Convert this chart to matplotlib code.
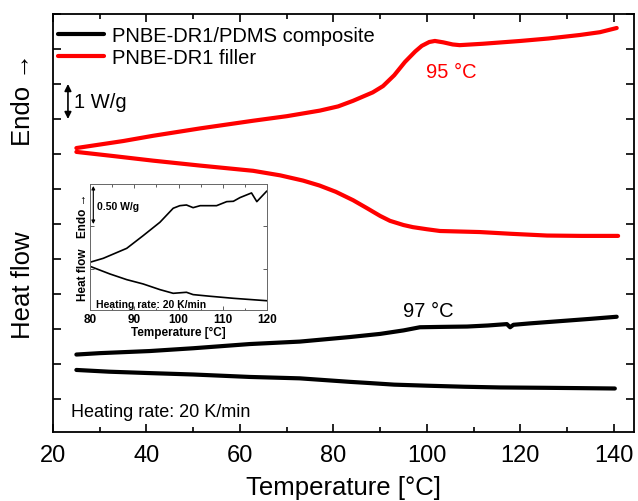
import matplotlib
matplotlib.use("Agg")
import matplotlib.pyplot as plt
from matplotlib.ticker import MultipleLocator

plt.rcParams['font.family'] = ['Liberation Sans', 'DejaVu Sans']

# ---- main data (temperature in °C, heat flow in W/g, offset) ----
red_up_T = [25, 30, 35, 41.4, 51.4, 62.8, 70, 77.1, 81, 84.2, 88.4, 90.6, 93, 95.3, 97.5, 98.9, 100.5, 101.7, 103.5, 105.5, 107, 112, 120, 126, 132.7, 137, 140.6]
red_up_v = [7.17, 7.27, 7.37, 7.52, 7.73, 7.95, 8.08, 8.24, 8.36, 8.52, 8.76, 8.94, 9.25, 9.63, 9.93, 10.09, 10.20, 10.23, 10.19, 10.13, 10.11, 10.15, 10.23, 10.30, 10.40, 10.48, 10.60]
red_dn_T = [25, 33, 41.4, 51.4, 62.8, 68.6, 73.5, 77, 80.5, 84.2, 87.2, 90, 92.1, 95, 97, 100, 102.8, 111.3, 118, 125.7, 133, 140.9]
red_dn_v = [7.06, 6.94, 6.81, 6.67, 6.52, 6.39, 6.24, 6.10, 5.92, 5.68, 5.45, 5.23, 5.09, 4.97, 4.91, 4.85, 4.80, 4.77, 4.72, 4.67, 4.66, 4.66]
blk_up_T = [25, 30, 40.7, 50, 62.1, 72.8, 83.5, 90, 95, 98.5, 103, 108.6, 113, 117.1, 117.8, 118.5, 122, 126, 130, 135, 140.6]
blk_up_v = [1.27, 1.31, 1.37, 1.45, 1.57, 1.64, 1.77, 1.86, 1.96, 2.05, 2.06, 2.07, 2.10, 2.14, 2.05, 2.12, 2.16, 2.20, 2.24, 2.29, 2.35]
blk_dn_T = [25, 32, 40.7, 50, 62.1, 72.8, 83.5, 87.2, 93, 100, 108, 115.6, 125, 133, 140.2]
blk_dn_v = [0.83, 0.78, 0.74, 0.70, 0.63, 0.59, 0.49, 0.46, 0.41, 0.38, 0.35, 0.33, 0.32, 0.31, 0.30]

# ---- inset data ----
in_up_T = [80, 83.0, 88.3, 92.0, 95.8, 98.8, 100.3, 101.8, 103.3, 104.9, 108.6, 110.9, 112.4, 113.9, 116.5, 117.7, 119.9]
in_up_v = [0.578, 0.624, 0.74, 0.887, 1.043, 1.206, 1.236, 1.244, 1.213, 1.236, 1.236, 1.283, 1.287, 1.33, 1.384, 1.283, 1.403]
in_dn_T = [80, 84.5, 88.3, 92.0, 95.8, 98.8, 101.8, 103.3, 107.1, 112.4, 119.9]
in_dn_v = [0.531, 0.442, 0.376, 0.326, 0.26, 0.217, 0.229, 0.202, 0.183, 0.159, 0.131]

x_ticks = [20, 40, 60, 80, 100, 120, 140]
inset_ticks = [80, 90, 100, 110, 120]

fig = plt.figure(figsize=(6.38, 5.02), dpi=100)
ax = fig.add_axes([53/638, 1-433/502, 581/638, 418/502])

ax.plot(blk_up_T, blk_up_v, color='black', lw=3.0, solid_capstyle='round', label='PNBE-DR1/PDMS composite')
ax.plot(blk_dn_T, blk_dn_v, color='black', lw=3.0, solid_capstyle='round')
ax.plot(red_up_T, red_up_v, color='#ff0000', lw=3.0, solid_capstyle='round', label='PNBE-DR1 filler')
ax.plot(red_dn_T, red_dn_v, color='#ff0000', lw=3.0, solid_capstyle='round')

ax.set_xlim(20, 144.3)
ax.set_ylim(-0.943, 11.0)
ax.set_xticks(x_ticks)
ax.xaxis.set_minor_locator(MultipleLocator(10))
ax.yaxis.set_major_locator(MultipleLocator(1))
ax.set_yticklabels([])
ax.tick_params(which='both', direction='in', top=True, right=True, width=1.2)
ax.tick_params(which='major', length=6, labelsize=17, pad=9)
ax.tick_params(which='minor', length=3.5)
for s in ax.spines.values():
    s.set_linewidth(1.3)
ax.set_xlabel('Temperature [°C]', fontsize=18.5, labelpad=6)

fig.text(23/638, 1-100/502, 'Endo →', rotation=90, fontsize=18.5, ha='center', va='center')
fig.text(23/638, 1-285/502, 'Heat flow', rotation=90, fontsize=18.5, ha='center', va='center')

ax.legend(loc='upper left', bbox_to_anchor=(-0.013, 1.0), frameon=False, fontsize=14.5,
          handlelength=2.3, handletextpad=0.4, labelspacing=0.15, borderaxespad=0.2)

ax.annotate('', xy=(23.2, 9.0), xytext=(23.2, 8.0),
            arrowprops=dict(arrowstyle='<|-|>', color='black', lw=1.2, mutation_scale=10, shrinkA=0, shrinkB=0))
ax.text(24.4, 8.5, '1 W/g', fontsize=14.5, ha='left', va='center')
ax.text(105.3, 9.37, '95 °C', color='#ff0000', fontsize=14.5, ha='center', va='center')
ax.text(100.2, 2.54, '97 °C', color='black', fontsize=14.5, ha='center', va='center')
ax.text(23.8, -0.35, 'Heating rate: 20 K/min', fontsize=13, ha='left', va='center')

# ---- inset ----
ins = fig.add_axes([90/638, 1-311/502, 177/638, 126/502])
ins.plot(in_up_T, in_up_v, color='black', lw=1.2)
ins.plot(in_dn_T, in_dn_v, color='black', lw=1.2)
ins.set_xlim(80, 120)
ins.set_ylim(0.023, 1.488)
ins.set_xticks(inset_ticks)
ins.xaxis.set_minor_locator(MultipleLocator(5))
ins.yaxis.set_major_locator(MultipleLocator(0.5))
ins.set_yticklabels([])
ins.tick_params(which='both', direction='in', top=True, right=True, width=0.6, color='#444444')
ins.tick_params(which='major', length=3, labelsize=8.5, pad=2)
ins.tick_params(which='minor', length=1.8)
for lab in ins.get_xticklabels():
    lab.set_fontweight('bold')
for s in ins.spines.values():
    s.set_linewidth(0.7)
    s.set_color('#666666')
ins.set_xlabel('Temperature [°C]', fontsize=8.5, fontweight='bold', labelpad=1)
ins.annotate('', xy=(80.75, 1.465), xytext=(80.75, 1.023),
             arrowprops=dict(arrowstyle='<|-|>', color='black', lw=0.8, mutation_scale=5, shrinkA=0, shrinkB=0))
ins.text(81.5, 1.236, '0.50 W/g', fontsize=7.5, fontweight='bold', ha='left', va='center')
ins.text(81.3, 0.095, 'Heating rate: 20 K/min', fontsize=7.5, fontweight='bold', ha='left', va='center')
fig.text(83/638, 1-216/502, 'Endo →', rotation=90, fontsize=8.5, fontweight='bold', ha='center', va='center')
fig.text(83/638, 1-275/502, 'Heat flow', rotation=90, fontsize=8.5, fontweight='bold', ha='center', va='center')

fig.savefig('out.png', dpi=100)
